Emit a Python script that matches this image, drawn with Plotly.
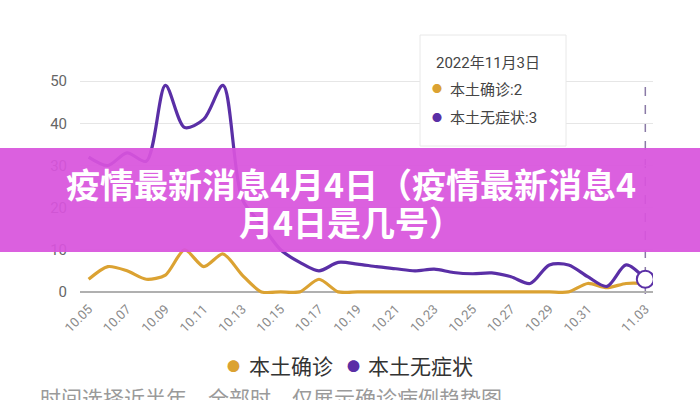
import plotly.graph_objects as go

# data
dates = ["10.05", "10.06", "10.07", "10.08", "10.09", "10.10", "10.11", "10.12", "10.13", "10.14",
         "10.15", "10.16", "10.17", "10.18", "10.19", "10.20", "10.21", "10.22", "10.23", "10.24",
         "10.25", "10.26", "10.27", "10.28", "10.29", "10.30", "10.31", "11.01", "11.02", "11.03"]
confirmed = [3, 6, 5, 3, 4, 10, 6, 9, 4, 0,
             0, 0, 3, 0, 0, 0, 0, 0, 0, 0,
             0, 0, 0, 0, 0, 0, 2, 1, 2, 2]
asymptomatic = [32, 30, 33, 31, 49, 39, 41, 49, 22, 16,
                10, 7, 5, 7, 6.6, 6, 5.5, 5, 5.4, 4.6,
                4.3, 4.5, 3.6, 2, 6.4, 6.4, 3.6, 1.3, 6.4, 3]
tick_dates = ["10.05", "10.07", "10.09", "10.11", "10.13", "10.15", "10.17", "10.19",
              "10.21", "10.23", "10.25", "10.27", "10.29", "10.31", "11.03"]
series_names = ["本土确诊", "本土无症状"]
tooltip_date = "2022年11月3日"
title_lines = ["疫情最新消息4月4日（疫情最新消息4", "月4日是几号）"]
footer_text = "时间选择近半年，全部时，仅展示确诊病例趋势图"

YELLOW = "#dba232"
PURPLE = "#5a2fa6"
FONT = "Roboto, Noto Sans CJK SC"
CJK = "Noto Sans CJK SC"

def px_x(p):
    # pixel -> paper (plot area 80..653)
    return (p - 80) / 573

def px_y(p):
    # pixel -> paper (plot area 77..294)
    return (294 - p) / 217

fig = go.Figure()
fig.add_trace(go.Scatter(x=dates, y=confirmed, mode="lines", hoverinfo="skip", name=series_names[0],
                         line=dict(color=YELLOW, width=3.2, shape="spline", smoothing=0.75), showlegend=False))
fig.add_trace(go.Scatter(x=dates, y=asymptomatic, mode="lines", hoverinfo="skip", name=series_names[1],
                         line=dict(color=PURPLE, width=3.2, shape="spline", smoothing=0.85), showlegend=False))
# highlighted point
fig.add_trace(go.Scatter(x=[dates[-1]], y=[asymptomatic[-1]], mode="markers", showlegend=False,
                         marker=dict(size=17, color="white", line=dict(color=PURPLE, width=2))))

# hover guide line (category index of the last date)
last_idx = len(dates) - 1
fig.add_shape(type="line", xref="x", yref="paper", x0=last_idx, x1=last_idx, y0=0, y1=px_y(83),
              line=dict(color="#8a7aa6", width=1.5, dash="dash"), layer="below")

# tooltip box
fig.add_shape(type="rect", xref="paper", yref="paper", x0=px_x(420), x1=px_x(566), y0=px_y(146), y1=px_y(35),
              fillcolor="white", line=dict(color="#e8e8e8", width=1), layer="above")
fig.add_annotation(x=px_x(434), y=px_y(63), xref="paper", yref="paper", xanchor="left", yanchor="middle",
                   text=tooltip_date, showarrow=False, font=dict(family=FONT, size=15, color="#444"))
rows = [(series_names[0] + ":" + str(confirmed[-1]), YELLOW, 90),
        (series_names[1] + ":" + str(asymptomatic[-1]), PURPLE, 118)]
for txt, col, yy in rows:
    fig.add_annotation(x=px_x(437), y=px_y(yy), xref="paper", yref="paper", xanchor="center", yanchor="middle",
                       text="●", showarrow=False, font=dict(family=FONT, size=10, color=col))
    fig.add_annotation(x=px_x(448), y=px_y(yy), xref="paper", yref="paper", xanchor="left", yanchor="middle",
                       text=txt, showarrow=False, font=dict(family=FONT, size=15, color="#444"))

# magenta title band
fig.add_shape(type="rect", xref="paper", yref="paper", x0=px_x(-5), x1=px_x(705), y0=px_y(252), y1=px_y(148),
              fillcolor="rgba(216,84,221,0.93)", line=dict(width=0), layer="above")
fig.add_annotation(x=px_x(351), y=px_y(183), xref="paper", yref="paper", xanchor="center", yanchor="middle",
                   text="<b>" + title_lines[0] + "</b>", showarrow=False,
                   font=dict(family=CJK, size=34, color="white"))
fig.add_annotation(x=px_x(351), y=px_y(221), xref="paper", yref="paper", xanchor="center", yanchor="middle",
                   text="<b>" + title_lines[1] + "</b>", showarrow=False,
                   font=dict(family=CJK, size=34, color="white"))

# legend drawn as dots + labels
for name, col, dot_x, txt_x in [(series_names[0], YELLOW, 233, 247), (series_names[1], PURPLE, 353, 366)]:
    fig.add_annotation(x=px_x(dot_x), y=px_y(366), xref="paper", yref="paper", xanchor="center",
                       yanchor="middle", text="●", showarrow=False, font=dict(family=FONT, size=13, color=col))
    fig.add_annotation(x=px_x(txt_x), y=px_y(365), xref="paper", yref="paper", xanchor="left",
                       yanchor="middle", text=name, showarrow=False, font=dict(family=CJK, size=21, color="#333"))

# cut-off footer line
fig.add_annotation(x=px_x(38), y=px_y(397), xref="paper", yref="paper", xanchor="left", yanchor="middle",
                   text=footer_text, showarrow=False, font=dict(family=CJK, size=21, color="#9a9a9a"))

fig.update_layout(
    width=700, height=400,
    margin=dict(l=80, r=47, t=77, b=106),
    paper_bgcolor="white", plot_bgcolor="white",
    font=dict(family=FONT),
    hovermode=False,
    showlegend=False,
    xaxis=dict(type="category", range=[-0.45, 29.4], showgrid=False, showline=False, automargin=False,
               tickmode="array", tickvals=tick_dates, ticktext=tick_dates, tickangle=-45,
               tickfont=dict(size=13, color="#8a8a8a"), ticks="", ticklabelstandoff=4),
    yaxis=dict(range=[-0.5, 51], dtick=10, tick0=0, gridcolor="#e6e6e6", gridwidth=1, automargin=False,
               zeroline=True, zerolinecolor="#b0b0b0", zerolinewidth=2, showline=False,
               tickfont=dict(size=15, color="#666"), ticklabelstandoff=12),
)

fig.write_html("out.html", config={"displayModeBar": False},
               post_script="document.body.style.margin='0';")
